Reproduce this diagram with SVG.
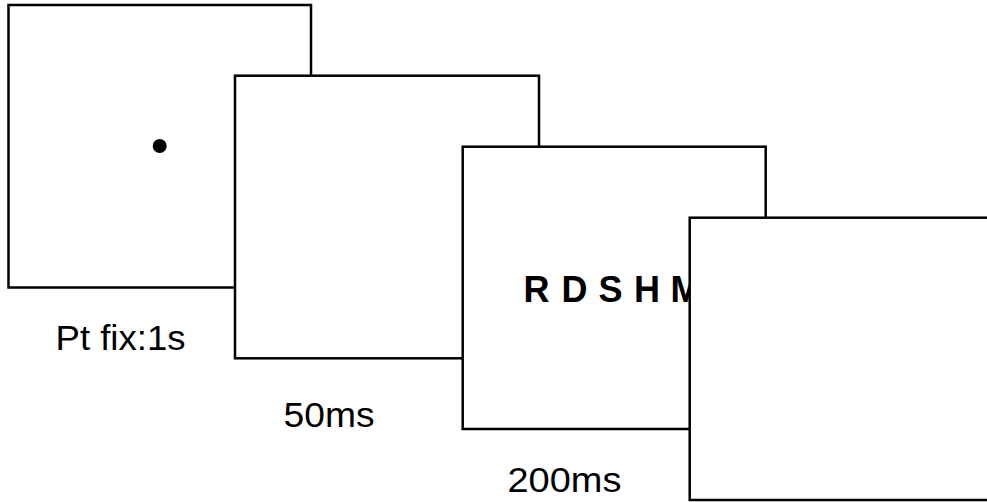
<svg xmlns="http://www.w3.org/2000/svg" width="987" height="502" viewBox="0 0 987 502">
<style>
.frame{fill:#fff;stroke:#000;stroke-width:2.5}
.lbl{font-family:"Liberation Sans",Arial,sans-serif;font-size:34.5px;fill:#000}
.stim{font-family:"Liberation Sans",Arial,sans-serif;font-size:36px;font-weight:bold;fill:#000}
</style>
<rect width="987" height="502" fill="#fff"/>
<g id="screen1">
<rect class="frame" x="8.5" y="5" width="302.5" height="282.5"/>
<circle cx="159.7" cy="146" r="7" fill="#000"/>
</g>
<g id="label1"><text class="lbl" x="55.5" y="350" textLength="130" lengthAdjust="spacingAndGlyphs">Pt fix:1s</text></g>
<g id="screen2">
<rect class="frame" x="235" y="75.7" width="304" height="282.6"/>
</g>
<g id="label2"><text class="lbl" x="283.5" y="426.5" textLength="91" lengthAdjust="spacingAndGlyphs">50ms</text></g>
<g id="screen3">
<rect class="frame" x="462.7" y="146.7" width="303" height="282.3"/>
<text class="stim" x="523.5 550 561.5 590 598.5 627 634 664 670.5" y="301.7">R D S H M</text>
</g>
<g id="label3"><text class="lbl" x="507.5" y="491.7" textLength="114" lengthAdjust="spacingAndGlyphs">200ms</text></g>
<g id="screen4">
<rect class="frame" x="689.7" y="217.7" width="303" height="282.3"/>
</g>
<g id="connectors"/>
</svg>
